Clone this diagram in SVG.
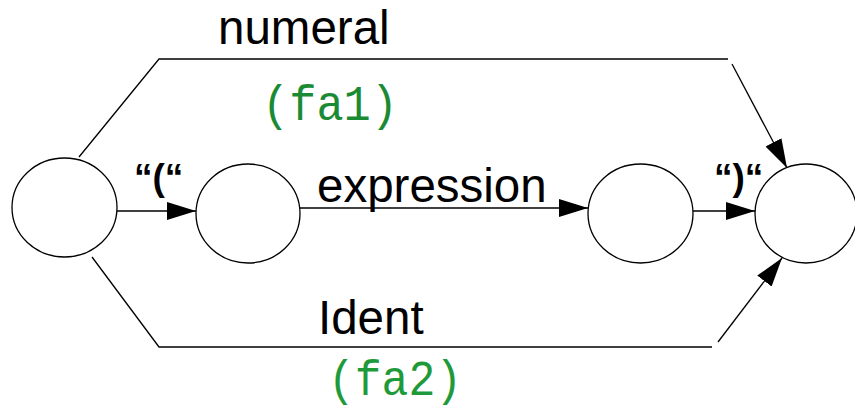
<svg xmlns="http://www.w3.org/2000/svg" width="855" height="409" viewBox="0 0 855 409">
<defs>
<style>
.node{fill:#fff;stroke:#000;stroke-width:1.3}
.edge{fill:none;stroke:#000;stroke-width:1.3}
.lbl{font-family:"Liberation Sans",Arial,sans-serif;font-size:47.5px;fill:#000}
.tok{font-family:"Liberation Sans",Arial,sans-serif;font-size:37px;font-weight:bold;fill:#000}
.act{font-family:"Liberation Mono","DejaVu Sans Mono",monospace;font-size:50px}
</style>
<marker id="ah" viewBox="0 0 29 18" refX="29" refY="9" markerWidth="29" markerHeight="18" markerUnits="userSpaceOnUse" orient="auto">
<path d="M0,0 L29,9 L0,18 Z" fill="#000"/>
</marker>
</defs>
<rect width="855" height="409" fill="#fff"/>
<g id="connectors">
<polyline class="edge" points="79,157 159,59 728,59"/>
<line class="edge" x1="732" y1="64" x2="787" y2="168" marker-end="url(#ah)"/>
<polyline class="edge" points="92,257 159,347 712,347"/>
<line class="edge" x1="718" y1="342" x2="782" y2="258" marker-end="url(#ah)"/>
<line class="edge" x1="117" y1="211" x2="196" y2="211" marker-end="url(#ah)"/>
<line class="edge" x1="289" y1="208" x2="588" y2="208" marker-end="url(#ah)"/>
<line class="edge" x1="693" y1="211" x2="755" y2="211" marker-end="url(#ah)"/>
</g>
<g id="n1"><ellipse class="node" cx="64.5" cy="207.5" rx="52.5" ry="49.5"/></g>
<g id="n2"><ellipse class="node" cx="248" cy="213.5" rx="52" ry="49.5"/></g>
<g id="n3"><ellipse class="node" cx="640.5" cy="213.5" rx="52.5" ry="49.5"/></g>
<g id="n4"><ellipse class="node" cx="806" cy="213.5" rx="51" ry="49.5"/></g>
<g id="labels">
<text class="lbl" x="218" y="44">numeral</text>
<text class="act" x="262" y="120" textLength="136" lengthAdjust="spacingAndGlyphs" fill="#1a8a34">(fa1)</text>
<text class="tok" x="134" y="190">“(“</text>
<text class="lbl" x="317" y="202">expression</text>
<text class="tok" x="714" y="190">“)“</text>
<text class="lbl" x="318" y="334">Ident</text>
<text class="act" x="328" y="395" textLength="134" lengthAdjust="spacingAndGlyphs" fill="#1f9a3b">(fa2)</text>
</g>
</svg>
